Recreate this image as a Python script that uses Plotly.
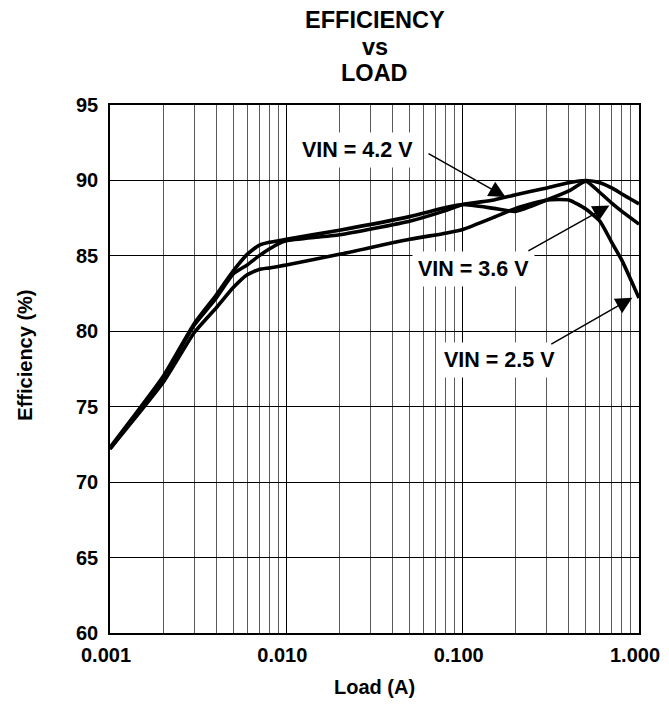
import plotly.graph_objects as go

# ---- data ----
load_a = [0.001, 0.002, 0.003, 0.004, 0.005, 0.006, 0.007, 0.008, 0.009, 0.01,
          0.02, 0.05, 0.08, 0.1, 0.15, 0.2, 0.3, 0.4, 0.5, 0.6, 0.7, 0.8, 0.9, 1.0]
eff_vin_36 = [72.3, 77.0, 80.5, 82.4, 84.0, 85.1, 85.7, 85.9, 86.0, 86.1,
              86.7, 87.6, 88.2, 88.4, 88.15, 87.95, 88.7, 89.3, 89.95, 89.2, 88.5, 87.95, 87.5, 87.1]
eff_vin_42 = [72.2, 76.9, 80.4, 82.2, 83.8, 84.4, 85.0, 85.45, 85.8, 86.0,
              86.4, 87.3, 88.0, 88.4, 88.7, 89.05, 89.5, 89.85, 90.0, 89.85, 89.5, 89.1, 88.75, 88.45]
eff_vin_25 = [72.2, 76.6, 79.9, 81.55, 82.9, 83.75, 84.1, 84.2, 84.3, 84.4,
              85.1, 86.1, 86.5, 86.75, 87.55, 88.15, 88.7, 88.7, 88.1, 87.3, 85.9, 84.7, 83.4, 82.2]

series_names = ["VIN = 3.6 V", "VIN = 4.2 V", "VIN = 2.5 V"]
series_values = [eff_vin_36, eff_vin_42, eff_vin_25]

x_tick_vals = [0.001, 0.01, 0.1, 1.0]
x_tick_text = ["0.001", "0.010", "0.100", "1.000"]
x_minor_vals = [m * d for d in (0.001, 0.01, 0.1) for m in range(2, 10)]
y_tick_vals = [60, 65, 70, 75, 80, 85, 90, 95]

title_lines = ["EFFICIENCY", "vs", "LOAD"]

# label text, label position (log10 load, efficiency), arrow tip (log10 load, efficiency), tail offset px
labels = [
    ("VIN = 4.2 V", -1.595, 92.02, -0.757, 88.9, -80, -45),
    ("VIN = 3.6 V", -0.941, 84.16, -0.168, 88.34, -84, 47),
    ("VIN = 2.5 V", -0.791, 78.10, -0.038, 82.22, -84, 48),
]

FONT = "Liberation Sans, Arial, sans-serif"

fig = go.Figure()
for name, vals in zip(series_names, series_values):
    fig.add_trace(go.Scatter(x=load_a, y=vals, mode="lines", name=name,
                             line=dict(color="black", width=3.6, shape="spline", smoothing=0.5),
                             showlegend=False))

annotations = []
for text, lx, ly, tx, ty, ax, ay in labels:
    annotations.append(dict(x=lx, y=ly, xref="x", yref="y", text=text, showarrow=False,
                            bgcolor="white", borderpad=5,
                            font=dict(family=FONT, size=21.5, color="black", weight="bold")))
    annotations.append(dict(x=tx, y=ty, xref="x", yref="y", text=" ", showarrow=True,
                            ax=ax, ay=ay, arrowhead=2, arrowsize=2.2, arrowwidth=1.5,
                            arrowcolor="black", standoff=0))

for line_text, ypos in zip(title_lines, [1.161, 1.1104, 1.060]):
    annotations.append(dict(x=0.5, y=ypos, xref="paper", yref="paper", text=line_text,
                            xanchor="center", yanchor="middle", showarrow=False,
                            font=dict(family=FONT, size=23.5, color="black", weight="bold")))

annotations.append(dict(x=-0.160, y=0.526, xref="paper", yref="paper", text="Efficiency (%)",
                        textangle=-90, xanchor="center", yanchor="middle", showarrow=False,
                        font=dict(family=FONT, size=20, color="black", weight="bold")))

fig.update_layout(
    width=661, height=692,
    margin=dict(l=102, r=30, t=97, b=67),
    paper_bgcolor="white", plot_bgcolor="white",
    annotations=annotations,
    xaxis=dict(type="log", range=[-3, 0], tickvals=x_tick_vals, ticktext=x_tick_text,
               showgrid=True, gridcolor="black", gridwidth=1,
               minor=dict(tickvals=x_minor_vals, showgrid=True, gridcolor="#5a5a5a", gridwidth=1,
                          ticks=""),
               showline=True, linecolor="black", linewidth=1.5, mirror=True,
               ticks="", zeroline=False, automargin=False, ticklabelstandoff=3,
               ticklabelshift=-4,
               tickfont=dict(family=FONT, size=20, color="black", weight="bold"),
               title=dict(text="Load (A)", standoff=15,
                          font=dict(family=FONT, size=20, color="black", weight="bold"))),
    yaxis=dict(range=[60, 95], tickvals=y_tick_vals,
               showgrid=True, gridcolor="black", gridwidth=1,
               showline=True, linecolor="black", linewidth=1.5, mirror=True,
               ticks="", zeroline=False, automargin=False, ticklabelstandoff=6,
               tickfont=dict(family=FONT, size=20, color="black", weight="bold")),
)

fig.write_html("out.html")
